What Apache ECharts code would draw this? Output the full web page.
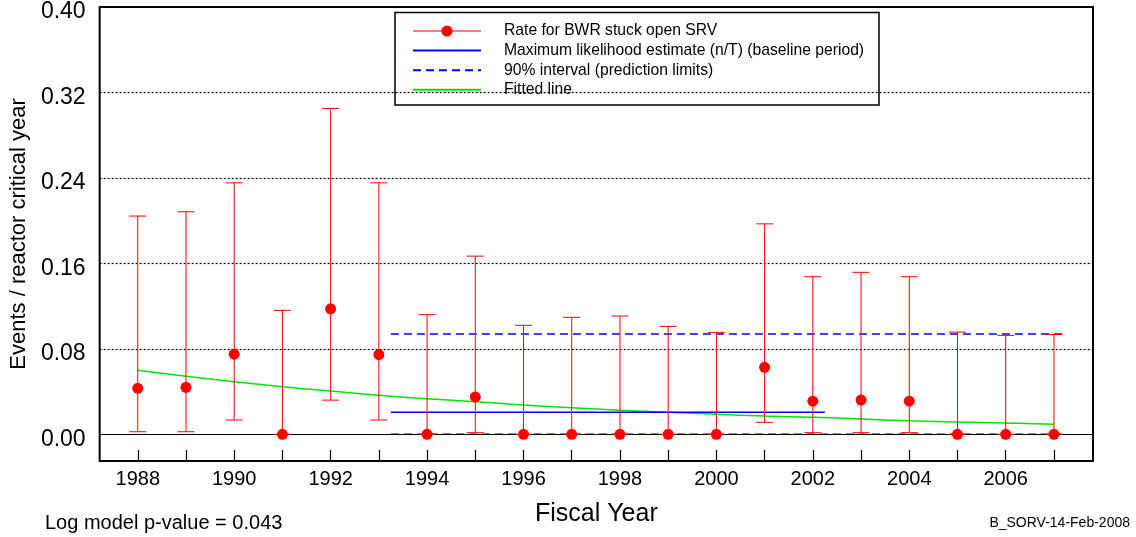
<!DOCTYPE html>
<html>
<head>
<meta charset="utf-8">
<script src="https://cdn.jsdelivr.net/npm/echarts@6/dist/echarts.min.js"></script>
<style>
html,body{margin:0;padding:0;background:#fff;}
#chart{width:1136px;height:537px;}
</style>
</head>
<body>
<div id="chart"></div>
<script>
// ---- data ----
const years = [1988,1989,1990,1991,1992,1993,1994,1995,1996,1997,1998,1999,2000,2001,2002,2003,2004,2005,2006,2007];
const rate  = [0.043,0.044,0.075,0,0.1175,0.0745,0,0.035,0,0,0,0,0,0.0627,0.031,0.032,0.031,0,0,0];
const lower = [0.0024,0.0024,0.0134,0,0.032,0.0134,0,0.0015,0,0,0,0,0,0.0112,0.0015,0.0015,0.0015,0,0,0];
const upper = [0.2043,0.2083,0.2354,0.116,0.305,0.2354,0.112,0.1668,0.102,0.1095,0.1107,0.101,0.0954,0.197,0.1475,0.1516,0.1475,0.0957,0.0926,0.0934];
const fitted = [0.0599,0.0543,0.0492,0.0446,0.0405,0.0365,0.0332,0.0305,0.0274,0.0249,0.0225,0.0206,0.0187,0.0171,0.0159,0.0143,0.0127,0.0115,0.0106,0.0094];
const mleSpan = [1993.25, 2002.25];
const mleValue = 0.0206;
const predSpan = [1993.25, 2007.25];
const predUpper = 0.0938;
const predLower = 0;
const yTicks = [0, 0.08, 0.16, 0.24, 0.32, 0.40];
const xLabelYears = [1988,1990,1992,1994,1996,1998,2000,2002,2004,2006];

const names = {
  rate: 'Rate for BWR stuck open SRV',
  mle: 'Maximum likelihood estimate (n/T) (baseline period)',
  pred: '90% interval (prediction limits)',
  fit: 'Fitted line'
};

const FONT = "'Liberation Sans', Arial, sans-serif";
const chart = echarts.init(document.getElementById('chart'));

const ratePts = years.map((y,i)=>[y, rate[i]]);
const barData = years.map((y,i)=>[y, lower[i], upper[i]]);
const fitPts = years.map((y,i)=>[y, fitted[i]]);

const option = {
  animation: false,
  textStyle: {fontFamily: FONT},
  grid: {left: 97, right: 43, top: 7, bottom: 76, show: true, borderColor: '#000', borderWidth: 2, backgroundColor: 'transparent'},
  xAxis: {
    type: 'value', min: 1987.21, max: 2007.81,
    name: 'Fiscal Year', nameLocation: 'middle', nameGap: 41,
    nameTextStyle: {fontSize: 25, color: '#000', fontFamily: FONT},
    axisLine: {show: false, onZero: false},
    splitLine: {show: false},
    axisTick: {show: true, inside: true, length: 11, customValues: years, lineStyle: {color: '#000', width: 1.2}},
    axisLabel: {customValues: xLabelYears, fontSize: 20, color: '#000', margin: 8, fontFamily: FONT, formatter: v => String(v)}
  },
  yAxis: {
    type: 'value', min: -0.025, max: 0.40,
    name: 'Events / reactor critical year', nameLocation: 'middle', nameGap: 68, nameRotate: 90,
    nameTextStyle: {fontSize: 22, color: '#000', fontFamily: FONT},
    axisLine: {show: false, onZero: false},
    splitLine: {show: false},
    axisTick: {show: false},
    axisLabel: {customValues: yTicks, fontSize: 23, color: '#000', margin: 14, fontFamily: FONT,
      verticalAlign: 'top', lineHeight: 10, formatter: v => v.toFixed(2)}
  },
  legend: {
    left: 412, top: 23, orient: 'vertical', itemWidth: 68, itemHeight: 14, itemGap: 3.6, padding: 0,
    textStyle: {fontSize: 15.7, color: '#000', fontFamily: FONT, padding: [0,0,0,18], lineHeight: 14},
    data: [
      {name: names.rate, lineStyle: {opacity: 1, color: '#ff0000', width: 1}},
      {name: names.mle, itemStyle: {opacity: 0}},
      {name: names.pred, itemStyle: {opacity: 0}},
      {name: names.fit, itemStyle: {opacity: 0}}
    ]
  },
  graphic: [
    {type: 'rect', z: 3, shape: {x: 395, y: 12.5, width: 484, height: 92.5},
     style: {fill: '#fff', stroke: '#000', lineWidth: 1.5}},
    {type: 'text', left: 45, top: 513, style: {text: 'Log model p-value = 0.043', fontSize: 20, fill: '#000', font: '20px ' + FONT}},
    {type: 'text', right: 6, top: 516.5, style: {text: 'B_SORV-14-Feb-2008', fontSize: 14, fill: '#000', font: '14px ' + FONT}}
  ],
  series: [
    {
      name: 'grid-lines', type: 'line', data: [], silent: true, z: 1,
      markLine: {
        silent: true, symbol: 'none', label: {show: false},
        lineStyle: {color: '#000', type: [2,2], width: 1.2},
        data: yTicks.slice(1, 5).map(v => ({yAxis: v})).concat([{yAxis: 0, lineStyle: {type: 'solid', color: '#000', width: 1}}])
      }
    },
    {
      name: names.fit, type: 'line', data: fitPts, smooth: true, showSymbol: false, symbol: 'none', z: 4,
      lineStyle: {color: '#00e600', width: 1.5}, itemStyle: {color: '#00e600'}
    },
    {
      name: names.mle, type: 'line', data: mleSpan.map(x => [x, mleValue]), showSymbol: false, symbol: 'none', z: 4,
      lineStyle: {color: '#0000ff', width: 1.5}, itemStyle: {color: '#0000ff'}
    },
    {
      name: names.pred, type: 'line', data: predSpan.map(x => [x, predUpper]), showSymbol: false, symbol: 'none', z: 4,
      lineStyle: {color: '#0000ff', width: 1.5, type: [8,5]}, itemStyle: {color: '#0000ff'}
    },
    {
      name: names.pred, type: 'line', data: predSpan.map(x => [x, predLower]), showSymbol: false, symbol: 'none', z: 4,
      lineStyle: {color: '#0000ff', width: 1.5, type: [8,5]}, itemStyle: {color: '#0000ff'}
    },
    {
      name: 'error-bars', type: 'custom', z: 5,
      data: barData,
      renderItem: function (params, api) {
        const x = api.value(0);
        const lo = api.coord([x, api.value(1)]);
        const hi = api.coord([x, api.value(2)]);
        const h = 8.5;
        const st = {stroke: '#ff0000', lineWidth: 1};
        return {type: 'group', children: [
          {type: 'line', shape: {x1: lo[0], y1: lo[1], x2: hi[0], y2: hi[1]}, style: st},
          {type: 'line', shape: {x1: hi[0]-h, y1: hi[1], x2: hi[0]+h, y2: hi[1]}, style: st},
          {type: 'line', shape: {x1: lo[0]-h, y1: lo[1], x2: lo[0]+h, y2: lo[1]}, style: st}
        ]};
      }
    },
    {
      name: names.rate, type: 'line', data: ratePts, symbol: 'circle', symbolSize: 11, z: 6,
      lineStyle: {opacity: 0, color: '#ff0000', width: 1}, itemStyle: {color: '#ff0000'}
    }
  ]
};
chart.setOption(option);
</script>
</body>
</html>
